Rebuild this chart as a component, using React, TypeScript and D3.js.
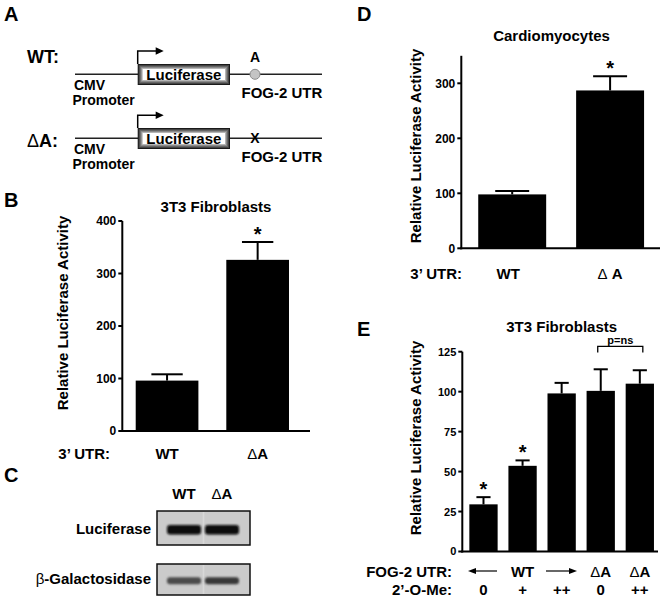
import React from "react";
import * as d3 from "d3";

// ---------- DATA ----------
const bCategories = ["WT", "ΔA"];
const bValues = [96, 326];
const bErrors = [12, 34];
const bStars = [false, true];
const bTicks = [0, 100, 200, 300, 400];

const dCategories = ["WT", "Δ A"];
const dValues = [98, 287];
const dErrors = [6, 26];
const dStars = [false, true];
const dTicks = [0, 100, 200, 300];

const eCategories = ["WT 0", "WT +", "WT ++", "ΔA 0", "ΔA ++"];
const eUtrLabels = ["", "WT", "", "ΔA", "ΔA"];
const eOMeLabels = ["0", "+", "++", "0", "++"];
const eValues = [29.5, 53.6, 98.9, 100.5, 105];
const eErrors = [4.5, 3.4, 6.6, 13.5, 8.4];
const eStars = [true, true, false, false, false];
const eTicks = [0, 25, 50, 75, 100, 125];

const blotLanes = ["WT", "ΔA"];
const luciferaseBand = [0.95, 0.95];
const galactosidaseBand = [0.62, 0.72];

const constructs = ["WT", "ΔA"];

const FONT = "'Liberation Sans', Arial, Helvetica, sans-serif";

function Delta({ text }: { text: string }) {
  if (!text.startsWith("Δ")) return <>{text}</>;
  return (
    <>
      <tspan fontWeight="normal">Δ</tspan>
      {text.slice(1)}
    </>
  );
}

type BarProps = {
  cats: string[];
  vals: number[];
  errs: number[];
  stars: boolean[];
  ticks: number[];
  domain: [number, number];
  yBottom: number;
  yTop: number;
  xStart: number;
  xEnd: number;
  pi: number;
  po: number;
  axisEnd: number;
  tickFont: number;
};

function BarPanel(p: BarProps) {
  const y = d3.scaleLinear().domain(p.domain).range([p.yBottom, p.yTop]);
  const x = d3
    .scaleBand<string>()
    .domain(p.cats)
    .range([p.xStart, p.xEnd])
    .paddingInner(p.pi)
    .paddingOuter(p.po);
  const bw = x.bandwidth();
  return (
    <g>
      {p.cats.map((c, i) => {
        const bx = x(c)!;
        const top = y(p.vals[i]);
        const et = y(p.vals[i] + p.errs[i]);
        const cx = bx + bw / 2;
        return (
          <g key={c}>
            <rect x={bx} y={top} width={bw} height={p.yBottom - top} fill="#000" />
            <line x1={cx} x2={cx} y1={top} y2={et} stroke="#000" strokeWidth={2} />
            <line x1={cx - bw / 4} x2={cx + bw / 4} y1={et} y2={et} stroke="#000" strokeWidth={2} />
            {p.stars[i] && (
              <text x={cx} y={et - 1.5} textAnchor="middle" fontSize={20} fontWeight="bold">
                *
              </text>
            )}
          </g>
        );
      })}
      <line x1={p.xStart} x2={p.xStart} y1={p.yBottom + 1} y2={y(p.domain[1])} stroke="#000" strokeWidth={2} />
      <line x1={p.xStart - 1} x2={p.axisEnd} y1={p.yBottom} y2={p.yBottom} stroke="#000" strokeWidth={2} />
      {p.ticks.map((t) => (
        <g key={t}>
          <line x1={p.xStart - 4} x2={p.xStart} y1={y(t)} y2={y(t)} stroke="#000" strokeWidth={2} />
          <text
            x={p.xStart - 6}
            y={y(t)}
            dy="0.36em"
            textAnchor="end"
            fontSize={p.tickFont}
            fontWeight="bold"
          >
            {t}
          </text>
        </g>
      ))}
    </g>
  );
}

function bandCenters(cats: string[], xStart: number, xEnd: number, pi: number, po: number) {
  const x = d3.scaleBand<string>().domain(cats).range([xStart, xEnd]).paddingInner(pi).paddingOuter(po);
  return cats.map((c) => x(c)! + x.bandwidth() / 2);
}

function Construct({ name, lineY, arrowY }: { name: string; lineY: number; arrowY: number }) {
  const boxX = 137.7;
  const boxW = 92.3;
  const boxH = 21;
  const boxY = lineY - 10.3;
  const insets = ["#1a1a1a", "#444", "#666", "#8a8a8a", "#b5b5b5", "#fff"];
  const wt = name === "WT";
  return (
    <g>
      <line x1={75} x2={322} y1={lineY} y2={lineY} stroke="#222" strokeWidth={1.5} />
      {insets.map((col, k) => (
        <rect key={k} x={boxX + k} y={boxY + k} width={boxW - 2 * k} height={boxH - 2 * k} fill={col} />
      ))}
      <text x={boxX + boxW / 2} y={lineY + 5.3} textAnchor="middle" fontSize={15} fontWeight="bold">
        Luciferase
      </text>
      <path
        d={`M${boxX},${boxY} V${arrowY} H${boxX + 19}`}
        fill="none"
        stroke="#000"
        strokeWidth={1.5}
      />
      <path d={`M${boxX + 18},${arrowY - 3.8} L${boxX + 26},${arrowY} L${boxX + 18},${arrowY + 3.8} Z`} fill="#000" />
      <text x={74} y={lineY + 16} fontSize={14} fontWeight="bold">CMV</text>
      <text x={72.5} y={lineY + 31} fontSize={14} fontWeight="bold">Promoter</text>
      <text x={241.5} y={lineY + 23.3} fontSize={15} fontWeight="bold">FOG-2 UTR</text>
      {wt ? (
        <>
          <circle cx={255} cy={lineY} r={5} fill="#c4c4c4" stroke="#8a8a8a" strokeWidth={1} />
          <text x={255} y={lineY - 12} textAnchor="middle" fontSize={14} fontWeight="bold">A</text>
          <text x={27} y={lineY - 11.3} fontSize={18} fontWeight="bold">WT:</text>
        </>
      ) : (
        <>
          <text x={255} y={lineY + 5} textAnchor="middle" fontSize={14} fontWeight="bold">X</text>
          <text x={27} y={lineY + 8.5} fontSize={18} fontWeight="bold">
            <Delta text="ΔA:" />
          </text>
        </>
      )}
    </g>
  );
}

function Blot() {
  const lx = d3.scaleBand<string>().domain(blotLanes).range([166, 240]).paddingInner(0.05);
  const rows = [
    { label: "Luciferase", y0: 511, y1: 545, band: luciferaseBand, cy: 529.7, h: 9.5, lab: "Luciferase" },
    { label: "β-Galactosidase", y0: 564, y1: 595, band: galactosidaseBand, cy: 580.7, h: 7, lab: "β-Galactosidase" },
  ];
  const shade = d3.scaleLinear<string>().domain([0, 1]).range(["#c8c8c8", "#000"]);
  return (
    <g>
      <defs>
        <filter id="blur" x="-20%" y="-80%" width="140%" height="260%">
          <feGaussianBlur stdDeviation="1.3" />
        </filter>
      </defs>
      {rows.map((r) => (
        <g key={r.label}>
          <rect x={157} y={r.y0} width={93} height={r.y1 - r.y0} fill="#cbcbcb" stroke="#111" strokeWidth={1.5} />
          <line x1={203.5} x2={203.5} y1={r.y0 + 1} y2={r.y1 - 1} stroke="#d8d8d8" strokeWidth={1.5} />
          {blotLanes.map((l, i) => (
            <rect
              key={l}
              x={lx(l)! + 1}
              y={r.cy - r.h / 2}
              width={lx.bandwidth() - 2}
              height={r.h}
              rx={3}
              fill={shade(r.band[i])}
              filter="url(#blur)"
            />
          ))}
          <text x={151} y={r.label === "Luciferase" ? 534 : 583.5} textAnchor="end" fontSize={15} fontWeight="bold">
            {r.label === "Luciferase" ? (
              "Luciferase"
            ) : (
              <>
                <tspan fontWeight="normal">β</tspan>-Galactosidase
              </>
            )}
          </text>
        </g>
      ))}
      {blotLanes.map((l) => (
        <text key={l} x={lx(l)! + lx.bandwidth() / 2} y={499} textAnchor="middle" fontSize={15} fontWeight="bold">
          <Delta text={l} />
        </text>
      ))}
    </g>
  );
}

function ArrowLine({ x1, x2, y }: { x1: number; x2: number; y: number }) {
  const dir = Math.sign(x2 - x1);
  return (
    <g>
      <line x1={x1} x2={x2 - dir * 6} y1={y} y2={y} stroke="#000" strokeWidth={1.2} />
      <path d={`M${x2},${y} L${x2 - dir * 8},${y - 3} L${x2 - dir * 8},${y + 3} Z`} fill="#000" />
    </g>
  );
}

export default function App() {
  // panel B geometry
  const bX = [122.3, 302.4, 0.308, 0.148] as const;
  const dX = [461.3, 661, 0.306, 0.173] as const;
  const eX = [462.3, 661, 0.276, 0.18] as const;
  const bC = bandCenters(bCategories, bX[0], bX[1], bX[2], bX[3]);
  const dC = bandCenters(dCategories, dX[0], dX[1], dX[2], dX[3]);
  const eC = bandCenters(eCategories, eX[0], eX[1], eX[2], eX[3]);
  const eY = d3.scaleLinear().domain([0, 125]).range([551.5, 351.7]);

  return (
    <svg
      width={662}
      height={603}
      style={{ position: "absolute", left: 0, top: 0, background: "#fff" }}
      fontFamily={FONT}
    >
      <rect width={662} height={603} fill="#fff" />
      {/* Panel letters */}
      <g fontSize={20} fontWeight="bold">
        <text x={4} y={20.5}>A</text>
        <text x={4} y={206.5}>B</text>
        <text x={4} y={482}>C</text>
        <text x={357} y={20.5}>D</text>
        <text x={357} y={336}>E</text>
      </g>

      {/* Panel A */}
      {constructs.map((c, i) => (
        <Construct key={c} name={c} lineY={i === 0 ? 74.3 : 138.3} arrowY={i === 0 ? 51 : 115.3} />
      ))}

      {/* Panel B */}
      <text x={216} y={212.3} textAnchor="middle" fontSize={15} fontWeight="bold">3T3 Fibroblasts</text>
      <text
        transform="translate(63,313) rotate(-90)"
        textAnchor="middle"
        dy="0.36em"
        fontSize={15}
        fontWeight="bold"
      >
        Relative Luciferase Activity
      </text>
      <BarPanel
        cats={bCategories}
        vals={bValues}
        errs={bErrors}
        stars={bStars}
        ticks={bTicks}
        domain={[0, 400]}
        yBottom={431}
        yTop={221}
        xStart={bX[0]}
        xEnd={bX[1]}
        pi={bX[2]}
        po={bX[3]}
        axisEnd={310}
        tickFont={12}
      />
      <text x={110} y={459} textAnchor="end" fontSize={15} fontWeight="bold">3’ UTR:</text>
      {bCategories.map((c, i) => (
        <text key={c} x={bC[i]} y={459} textAnchor="middle" fontSize={15} fontWeight="bold">
          <Delta text={c} />
        </text>
      ))}

      {/* Panel C */}
      <Blot />

      {/* Panel D */}
      <text x={551.5} y={40.8} textAnchor="middle" fontSize={15} fontWeight="bold">Cardiomyocytes</text>
      <text
        transform="translate(416,146) rotate(-90)"
        textAnchor="middle"
        dy="0.36em"
        fontSize={15}
        fontWeight="bold"
      >
        Relative Luciferase Activity
      </text>
      <BarPanel
        cats={dCategories}
        vals={dValues}
        errs={dErrors}
        stars={dStars}
        ticks={dTicks}
        domain={[0, 350]}
        yBottom={248.3}
        yTop={55.8}
        xStart={dX[0]}
        xEnd={dX[1]}
        pi={dX[2]}
        po={dX[3]}
        axisEnd={660}
        tickFont={12}
      />
      <text x={462} y={279} textAnchor="end" fontSize={15} fontWeight="bold">3’ UTR:</text>
      {dCategories.map((c, i) => (
        <text key={c} x={dC[i] - (i === 0 ? 4 : 0)} y={279} textAnchor="middle" fontSize={15} fontWeight="bold">
          <Delta text={c} />
        </text>
      ))}

      {/* Panel E */}
      <text x={561.7} y={331.7} textAnchor="middle" fontSize={15} fontWeight="bold">3T3 Fibroblasts</text>
      <text
        transform="translate(416,438) rotate(-90)"
        textAnchor="middle"
        dy="0.36em"
        fontSize={15}
        fontWeight="bold"
      >
        Relative Luciferase Activity
      </text>
      <BarPanel
        cats={eCategories}
        vals={eValues}
        errs={eErrors}
        stars={eStars}
        ticks={eTicks}
        domain={[0, 125]}
        yBottom={551.5}
        yTop={351.7}
        xStart={eX[0]}
        xEnd={eX[1]}
        pi={eX[2]}
        po={eX[3]}
        axisEnd={658}
        tickFont={11}
      />
      {/* p=ns bracket */}
      {(() => {
        const xa = eC[3] - 3;
        const xb = eC[4] + 3;
        const yt = eY(128.3);
        return (
          <g>
            <path d={`M${xa},${yt + 6} V${yt} H${xb} V${yt + 6}`} fill="none" stroke="#000" strokeWidth={1.3} />
            <text x={(xa + xb) / 2} y={yt - 2.5} textAnchor="middle" fontSize={11} fontWeight="bold">p=ns</text>
          </g>
        );
      })()}
      <text x={452} y={577} textAnchor="end" fontSize={15} fontWeight="bold">FOG-2 UTR:</text>
      <text x={452} y={595} textAnchor="end" fontSize={15} fontWeight="bold">2’-O-Me:</text>
      <ArrowLine x1={497} x2={468} y={571} />
      <ArrowLine x1={546} x2={577} y={571} />
      {eUtrLabels.map((l, i) =>
        l ? (
          <text key={i} x={eC[i]} y={577} textAnchor="middle" fontSize={15} fontWeight="bold">
            <Delta text={l} />
          </text>
        ) : null
      )}
      {eOMeLabels.map((l, i) => (
        <text key={i} x={eC[i]} y={595} textAnchor="middle" fontSize={15} fontWeight="bold">
          {l}
        </text>
      ))}
    </svg>
  );
}
